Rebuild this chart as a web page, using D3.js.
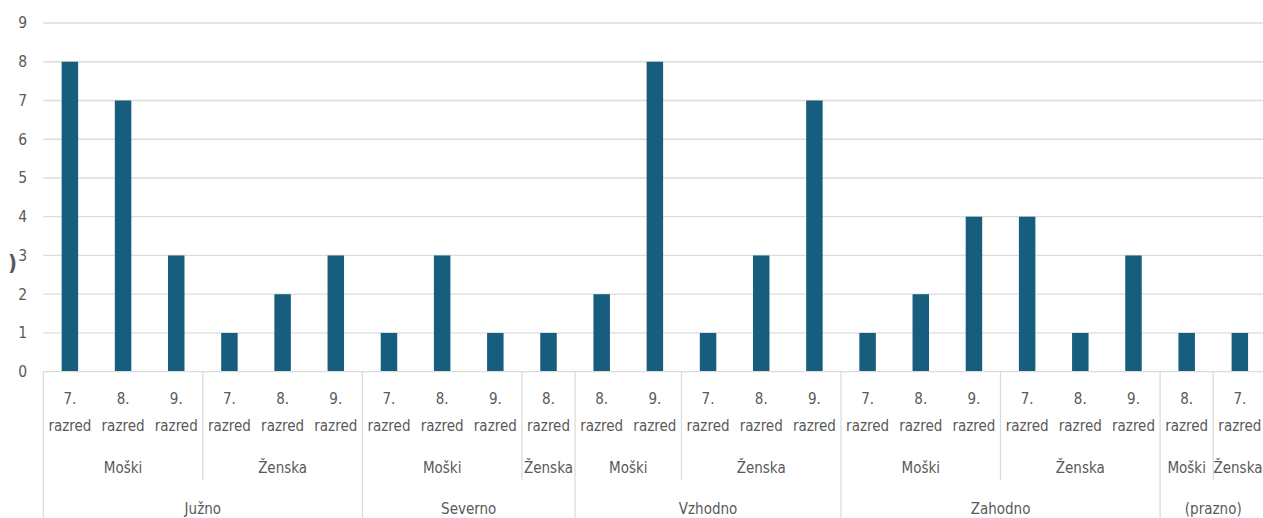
<!DOCTYPE html>
<html>
<head>
<meta charset="utf-8">
<script src="https://cdn.jsdelivr.net/npm/d3@7"></script>
<style>
  html, body { margin: 0; padding: 0; background: #fff; overflow: hidden; }
  svg { display: block; }
  text { font-family: "Liberation Sans Narrow", "DejaVu Sans Condensed", "Roboto", sans-serif; fill: #595959; }
</style>
</head>
<body>
<svg id="chart" width="1263" height="518"></svg>
<script>
// Hierarchical categories: region > gender > grade
const regions = ["Južno", "Južno", "Južno", "Južno", "Južno", "Južno",
                 "Severno", "Severno", "Severno", "Severno",
                 "Vzhodno", "Vzhodno", "Vzhodno", "Vzhodno", "Vzhodno",
                 "Zahodno", "Zahodno", "Zahodno", "Zahodno", "Zahodno", "Zahodno",
                 "(prazno)", "(prazno)"];
const genders = ["Moški", "Moški", "Moški", "Ženska", "Ženska", "Ženska",
                 "Moški", "Moški", "Moški", "Ženska",
                 "Moški", "Moški", "Ženska", "Ženska", "Ženska",
                 "Moški", "Moški", "Moški", "Ženska", "Ženska", "Ženska",
                 "Moški", "Ženska"];
const grades = ["7.", "8.", "9.", "7.", "8.", "9.",
                "7.", "8.", "9.", "8.",
                "8.", "9.", "7.", "8.", "9.",
                "7.", "8.", "9.", "7.", "8.", "9.",
                "8.", "7."];
const counts = [8, 7, 3, 1, 2, 3,
                1, 3, 1, 1,
                2, 8, 1, 3, 7,
                1, 2, 4, 4, 1, 3,
                1, 1];
const yTicks = [0, 1, 2, 3, 4, 5, 6, 7, 8, 9];

const svg = d3.select("#chart");
const plotLeft = 43.3, bandW = 53.18;
const plotTop = 23, plotBottom = 371.7;
const n = counts.length;
const labelSize = 15;

const x = d3.scaleBand()
  .domain(d3.range(n))
  .range([plotLeft, plotLeft + bandW * n])
  .paddingInner(0.69)
  .paddingOuter(0.345);

const y = d3.scaleLinear().domain([0, 9]).range([plotBottom, plotTop]);

// horizontal gridlines
svg.append("g")
  .selectAll("line")
  .data(yTicks.filter(d => d > 0))
  .join("line")
  .attr("x1", plotLeft).attr("x2", 1263)
  .attr("y1", d => y(d)).attr("y2", d => y(d))
  .attr("stroke", "#dcdcdc").attr("stroke-width", 1.3);

// y-axis labels
const yAxis = d3.axisLeft(y).tickValues(yTicks).tickSize(0).tickPadding(0);
const ya = svg.append("g").attr("transform", "translate(27,0)").call(yAxis);
ya.attr("font-family", null).attr("font-size", null);
ya.select(".domain").remove();
ya.selectAll("text")
  .attr("font-size", 15.5)
  .attr("fill", "#595959");

// clipped axis title remnant
svg.append("text")
  .attr("x", 8).attr("y", 270)
  .attr("font-size", 22)
  .attr("font-weight", "bold")
  .attr("fill", "#595959")
  .text(")");

// bars
svg.append("g")
  .selectAll("rect")
  .data(counts)
  .join("rect")
  .attr("x", (d, i) => x(i))
  .attr("width", x.bandwidth())
  .attr("y", d => y(d))
  .attr("height", d => y(0) - y(d))
  .attr("fill", "#175e7e");

// category axis baseline
svg.append("line")
  .attr("x1", plotLeft).attr("x2", 1263)
  .attr("y1", plotBottom).attr("y2", plotBottom)
  .attr("stroke", "#dcdcdc").attr("stroke-width", 1.3);

// group spans (consecutive runs)
function runs(keyFn) {
  const out = [];
  for (let i = 0; i < n; i++) {
    const k = keyFn(i);
    if (out.length && out[out.length - 1].key === k) out[out.length - 1].end = i;
    else out.push({ key: k, start: i, end: i });
  }
  return out;
}
const bandLeft = i => plotLeft + bandW * i;
const regionRuns = runs(i => regions[i]);
const genderRuns = runs(i => regions[i] + "|" + genders[i]);

const axisG = svg.append("g");

// separators: region boundaries run to the bottom, gender boundaries shorter
const regionEdges = new Set(regionRuns.map(r => r.start));
axisG.selectAll("line.reg")
  .data(regionRuns.map(r => r.start).concat([n]))
  .join("line")
  .attr("class", "reg")
  .attr("x1", d => bandLeft(d)).attr("x2", d => bandLeft(d))
  .attr("y1", plotBottom).attr("y2", 518)
  .attr("stroke", "#dcdcdc").attr("stroke-width", 1.3);

axisG.selectAll("line.gen")
  .data(genderRuns.map(r => r.start).filter(s => !regionEdges.has(s)))
  .join("line")
  .attr("class", "gen")
  .attr("x1", d => bandLeft(d)).attr("x2", d => bandLeft(d))
  .attr("y1", plotBottom).attr("y2", 480)
  .attr("stroke", "#dcdcdc").attr("stroke-width", 1.3);

// grade labels (two lines)
const gl = axisG.selectAll("g.grade")
  .data(grades)
  .join("g")
  .attr("class", "grade")
  .attr("transform", (d, i) => `translate(${bandLeft(i) + bandW / 2},0)`);
gl.append("text").attr("y", 404).attr("text-anchor", "middle").attr("font-size", labelSize).text(d => d);
gl.append("text").attr("y", 431).attr("text-anchor", "middle").attr("font-size", labelSize).text("razred");

// gender labels (kept inside the visible width)
axisG.selectAll("text.gender")
  .data(genderRuns)
  .join("text")
  .attr("class", "gender")
  .attr("x", r => Math.min((bandLeft(r.start) + bandLeft(r.end + 1)) / 2, 1238))
  .attr("y", 473)
  .attr("text-anchor", "middle")
  .attr("font-size", labelSize)
  .text(r => r.key.split("|")[1]);

// region labels
axisG.selectAll("text.region")
  .data(regionRuns)
  .join("text")
  .attr("class", "region")
  .attr("x", r => (bandLeft(r.start) + bandLeft(r.end + 1)) / 2)
  .attr("y", 514)
  .attr("text-anchor", "middle")
  .attr("font-size", labelSize)
  .text(r => r.key);
</script>
</body>
</html>
